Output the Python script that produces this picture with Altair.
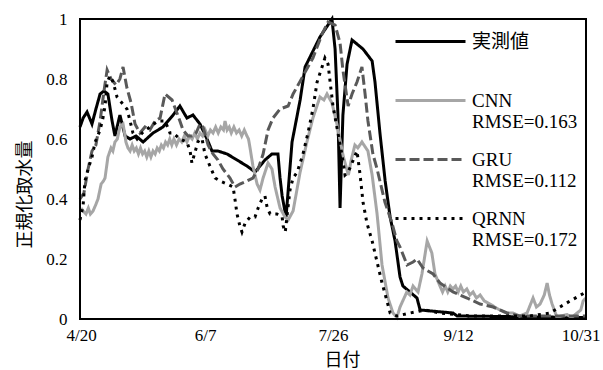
import altair as alt
import pandas as pd

start_date = "2019-04-20"
series_names = ["実測値", "CNN", "GRU", "QRNN"]
rmse_labels = ["", "RMSE=0.163", "RMSE=0.112", "RMSE=0.172"]
x_tick_dates = [(2019, 4, 20), (2019, 6, 7), (2019, 7, 26), (2019, 9, 12), (2019, 10, 31)]
y_tick_values = [0, 0.2, 0.4, 0.6, 0.8, 1]

# day offset from 4/20, value
actual_day = [0, 1.2, 2.7, 4.6, 6.1, 7.7, 9.2, 10.7, 12.3, 13.4, 15.3, 17.3, 19.2, 21.5, 24.2, 28.0,
              31.8, 35.7, 38.3, 41.0, 43.3, 46.0, 48.7, 50.6, 52.9, 56.4, 60.2, 64.0, 67.1, 69.0,
              70.9, 73.6, 75.9, 76.7, 77.5, 79.0, 81.3, 84.4, 86.3, 92.0, 96.6, 97.8, 98.9, 99.7,
              100.8, 102.4, 104.3, 108.5, 112.0, 113.1, 115.0, 117.0, 118.9, 120.8, 122.7, 123.8,
              129.2, 130.4, 143.0, 144.6, 194]
actual_val = [0.64, 0.67, 0.69, 0.65, 0.70, 0.75, 0.76, 0.75, 0.66, 0.61, 0.68, 0.61, 0.60, 0.61, 0.59, 0.62,
              0.64, 0.68, 0.71, 0.67, 0.68, 0.65, 0.60, 0.56, 0.56, 0.55, 0.53, 0.51, 0.49, 0.51,
              0.53, 0.55, 0.55, 0.47, 0.41, 0.34, 0.59, 0.73, 0.84, 0.94, 1.0, 0.90, 0.68, 0.37,
              0.68, 0.85, 0.93, 0.90, 0.86, 0.79, 0.62, 0.46, 0.34, 0.26, 0.14, 0.11,
              0.07, 0.03, 0.02, 0.01, 0.005]

cnn_day = [0.4, 1.2, 2.3, 3.2, 4.0, 5.0, 6.0, 6.9, 8.1, 9.0, 9.6, 10.7, 11.9, 12.6, 13.4, 14.3, 15.3, 16.5,
           17.1, 17.6, 18.4, 19.2, 20.0, 20.8, 21.6, 22.4, 23.2, 24.0, 24.8, 25.6, 26.4, 27.2, 28.0, 28.8,
           29.6, 30.4, 31.2, 32.0, 32.8, 33.6, 34.4, 35.2, 36.0, 37.0, 38.0, 39.0, 40.0, 41.0, 42.0, 43.0,
           44.0, 45.0, 46.0, 47.0, 48.0, 49.0, 50.0, 51.0, 52.0, 53.0, 54.0, 55.0, 55.6, 56.4, 57.2, 58.0,
           59.0, 60.0, 61.0, 62.0, 63.0, 64.0, 64.6, 65.2, 66.3, 67.9, 69.0, 70.2, 72.1, 73.6, 74.8, 76.7,
           78.6, 79.8, 81.7, 84.4, 87.0, 89.3, 92.0, 93.5, 94.7, 96.6, 98.5, 101.0, 102.9, 104.0, 105.4,
           106.5, 108.1, 110.4, 112.0, 113.9, 115.8, 118.1, 120.0, 121.5, 122.7, 125.3, 126.5, 127.7,
           129.6, 131.1, 133.1, 134.9, 136.1, 138.0, 139.0, 140.0, 141.0, 142.0, 143.0, 144.0, 145.0,
           146.0, 147.0, 148.3, 149.5, 150.7, 152.0, 153.4, 155.0, 157.2, 159.0, 161.0, 163.5, 166.0,
           168.5, 171.4, 173.7, 175.0, 176.4, 178.0, 179.1, 180.0, 181.0, 182.9, 184.5, 186.7, 188.5,
           190.6, 192.0, 192.9, 194.0]
cnn_val = [0.37, 0.36, 0.35, 0.37, 0.35, 0.36, 0.38, 0.40, 0.45, 0.46, 0.47, 0.54, 0.57, 0.56, 0.59, 0.60, 0.64, 0.65,
           0.62, 0.59, 0.57, 0.56, 0.58, 0.56, 0.57, 0.55, 0.57, 0.55, 0.56, 0.54, 0.56, 0.54, 0.56, 0.55,
           0.57, 0.56, 0.58, 0.57, 0.59, 0.58, 0.60, 0.58, 0.60, 0.58, 0.60, 0.59, 0.61, 0.59, 0.61, 0.60,
           0.62, 0.60, 0.62, 0.61, 0.63, 0.61, 0.63, 0.62, 0.64, 0.62, 0.64, 0.63, 0.66, 0.63, 0.64, 0.62,
           0.64, 0.62, 0.63, 0.61, 0.63, 0.61, 0.60, 0.57, 0.51, 0.45, 0.43, 0.47, 0.52, 0.50, 0.44, 0.37,
           0.34, 0.33, 0.36, 0.49, 0.59, 0.67, 0.74, 0.73, 0.75, 0.72, 0.65, 0.54, 0.48, 0.53, 0.58,
           0.57, 0.59, 0.56, 0.48, 0.35, 0.18, 0.07, 0.02, 0.005, 0.04, 0.09, 0.08, 0.11,
           0.09, 0.15, 0.26, 0.22, 0.15, 0.11, 0.09, 0.11, 0.09, 0.11, 0.10, 0.11, 0.09,
           0.11, 0.09, 0.10, 0.08, 0.09, 0.07, 0.08, 0.06, 0.05, 0.04, 0.03, 0.02, 0.02,
           0.01, 0.02, 0.07, 0.04, 0.05, 0.08, 0.12, 0.08, 0.05, 0.005, 0.01, 0.015, 0.005,
           0.02, 0.03, 0.06, 0.07]

gru_day = [0, 1.5, 3.1, 4.6, 6.1, 7.7, 9.2, 10.4, 11.9, 13.8, 15.3, 16.5, 18.0, 19.6, 21.1, 23.0, 24.9,
           26.8, 28.8, 30.7, 32.6, 35.3, 38.3, 39.5, 41.4, 42.9, 44.5, 46.0, 47.2, 49.1, 51.0, 52.9,
           54.8, 57.5, 59.4, 61.3, 64.0, 66.3, 68.3, 70.2, 72.1, 74.0, 76.7, 79.8, 81.7, 85.5, 89.3,
           92.8, 95.1, 97.8, 99.7, 100.8, 102.8, 104.3, 106.2, 108.1, 109.3, 110.4, 112.3, 113.9,
           116.9, 119.6, 121.5, 122.7, 125.4, 127.7, 129.2, 131.5, 135.4, 138.0, 143.0, 148.4, 153.4,
           158.4, 163.7, 168.7, 178.3, 194]
gru_val = [0.40, 0.42, 0.50, 0.56, 0.58, 0.66, 0.76, 0.83, 0.80, 0.78, 0.80, 0.84, 0.77, 0.72, 0.65, 0.62, 0.64,
           0.63, 0.66, 0.67, 0.75, 0.73, 0.66, 0.63, 0.61, 0.61, 0.62, 0.65, 0.64, 0.58, 0.55, 0.53,
           0.50, 0.47, 0.44, 0.45, 0.46, 0.47, 0.50, 0.55, 0.63, 0.67, 0.70, 0.71, 0.75, 0.81, 0.87,
           0.95, 0.99, 0.98, 0.92, 0.83, 0.71, 0.75, 0.79, 0.84, 0.75, 0.66, 0.55, 0.50,
           0.39, 0.32, 0.26, 0.24, 0.18, 0.19, 0.20, 0.17, 0.15, 0.12, 0.09, 0.07, 0.05,
           0.04, 0.02, 0.01, 0.01, 0.01]

qrnn_day = [0, 1.2, 1.9, 3.1, 4.6, 5.8, 7.7, 8.8, 9.6, 10.4, 11.5, 12.7, 14.2, 16.1, 18.0, 19.2, 20.3,
            21.9, 23.8, 26.8, 29.9, 32.6, 34.5, 35.7, 38.3, 41.0, 42.2, 42.9, 45.2, 46.0, 46.8, 47.9,
            49.8, 51.8, 53.7, 56.4, 58.7, 59.4, 60.2, 61.3, 62.1, 63.3, 65.2, 67.1, 68.3, 69.8, 70.9,
            71.8, 72.9, 75.5, 77.5, 77.9, 78.7, 80.5, 81.7, 83.3, 85.5, 87.4, 89.3, 90.9, 92.8, 93.9,
            95.1, 95.9, 97.0, 98.9, 100.4, 101.6, 102.8, 104.3, 106.2, 107.4, 108.5, 110.0, 112.0,
            113.9, 115.8, 117.7, 118.9, 121.5, 126.5, 132.3, 138.0, 149.5, 161.0, 172.5, 180.2, 184.0,
            187.9, 194]
qrnn_val = [0.33, 0.38, 0.46, 0.50, 0.54, 0.59, 0.63, 0.67, 0.71, 0.79, 0.81, 0.79, 0.74, 0.72, 0.70, 0.66, 0.62,
            0.60, 0.62, 0.64, 0.66, 0.66, 0.62, 0.62, 0.60, 0.59, 0.56, 0.52, 0.59, 0.60, 0.60, 0.55,
            0.51, 0.47, 0.46, 0.45, 0.44, 0.40, 0.35, 0.31, 0.29, 0.32, 0.34, 0.34, 0.37, 0.40, 0.41,
            0.37, 0.35, 0.35, 0.34, 0.31, 0.29, 0.43, 0.47, 0.49, 0.55, 0.62, 0.70, 0.79, 0.84, 0.87,
            0.85, 0.79, 0.71, 0.62, 0.55, 0.48, 0.49, 0.52, 0.56, 0.48, 0.39, 0.32, 0.26,
            0.19, 0.12, 0.06, 0.02, 0.01, 0.02, 0.03, 0.02, 0.01, 0.01, 0.01, 0.02, 0.04,
            0.06, 0.09]

series_days = [actual_day, cnn_day, gru_day, qrnn_day]
series_vals = [actual_val, cnn_val, gru_val, qrnn_val]

rows = []
base = pd.Timestamp(start_date)
for name, days, vals in zip(series_names, series_days, series_vals):
    for d, v in zip(days, vals):
        t = base + pd.Timedelta(days=d)
        rows.append({"series": name, "date": t.strftime("%Y-%m-%dT%H:%M:%S"), "value": v})
df = pd.DataFrame(rows)

# legend labels: name on the first line, RMSE (or blank) below
parts = []
for name, r in zip(series_names, rmse_labels):
    parts.append(f"datum.label == '{name}' ? ['{name}', '{r}'] : ")
label_expr = "".join(parts) + "datum.label"

color_range = ["#000000", "#a6a6a6", "#595959", "#000000"]
dash_range = [[1, 0], [1, 0], [10, 4], [3, 5]]

# long horizontal line symbol on a small nominal symbol size
legend = alt.Legend(
    title=None, orient="none", legendX=341, legendY=13, padding=0,
    symbolType="M-7,0H7", symbolSize=100, symbolStrokeWidth=3,
    labelFont="'Liberation Serif', 'Noto Sans CJK JP'", labelFontSize=19,
    labelBaseline="middle", labelExpr=label_expr, labelOffset=32, labelLimit=300,
    labelColor="black", rowPadding=18,
)

x_values = [alt.DateTime(year=y, month=m, date=d) for (y, m, d) in x_tick_dates]

lines = alt.Chart(df).mark_line(strokeWidth=3).encode(
    x=alt.X("date:T",
            scale=alt.Scale(domain=[x_values[0], x_values[-1]]),
            axis=alt.Axis(values=x_values, format="%-m/%-d", labelPadding=8, labelOverlap=False,
                          labelFlush=True, labelFlushOffset=14,
                          title="日付", titleX=262, titleY=41, titleBaseline="middle",
                          titleAlign="center")),
    y=alt.Y("value:Q",
            scale=alt.Scale(domain=[0, 1], nice=False),
            axis=alt.Axis(values=y_tick_values, format="~g", labelPadding=13,
                          title="正規化取水量", titleX=-55, titleY=175, titleAngle=-90,
                          titleBaseline="middle", titleAlign="center")),
    color=alt.Color("series:N", scale=alt.Scale(domain=series_names, range=color_range), legend=legend),
    strokeDash=alt.StrokeDash("series:N", scale=alt.Scale(domain=series_names, range=dash_range), legend=legend),
    order=alt.Order("date:T"),
)

# plot-area frame, drawn through the scales at the domain corners
frame = alt.Chart(df).mark_rect(fillOpacity=0, stroke="black", strokeWidth=2).encode(
    x=alt.datum(x_values[0]),
    x2=alt.datum(x_values[-1]),
    y=alt.datum(0),
    y2=alt.datum(1),
).transform_filter("datum.series == '実測値' && datum.value == 1.0")

chart = alt.layer(lines, frame).properties(
    width=506, height=300,
    autosize=alt.AutoSizeParams(type="none"),
    padding={"left": 80, "top": 19, "right": 17, "bottom": 51},
).configure_view(
    stroke="black", strokeWidth=2
).configure_axis(
    grid=False, domain=False, ticks=False, tickSize=0,
    labelFont="Liberation Serif", labelFontSize=17, labelColor="black",
    titleFont="Noto Sans CJK JP", titleFontSize=18, titleFontWeight="normal", titleColor="black",
)

chart.save("out.html", embed_options={"renderer": "svg", "actions": False})
